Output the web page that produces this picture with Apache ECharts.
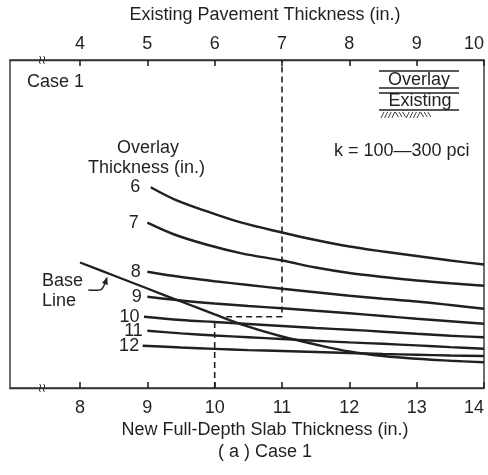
<!DOCTYPE html>
<html>
<head>
<meta charset="utf-8">
<script src="https://cdn.jsdelivr.net/npm/echarts@6/dist/echarts.min.js"></script>
<style>
html,body{margin:0;padding:0;background:#fff;}
#chart{width:488px;height:475px;}
</style>
</head>
<body>
<div id="chart"></div>
<script>
// ---- data (x = new full-depth slab thickness, in.; y = relative chart position) ----
const newSlabTicks = [8, 9, 10, 11, 12, 13, 14];
const existingTicks = [4, 5, 6, 7, 8, 9, 10];
const overlayLabels = ['6', '7', '8', '9', '10', '11', '12'];
const curve6  = [[9.05,200.7],[9.4,188.7],[9.9,176.3],[10.4,165.3],[11.0,155.5],[11.5,148],[12.0,141.5],[12.5,136.5],[13.0,132],[13.5,127.5],[14.0,123.5]];
const curve7  = [[9.0,165.3],[9.4,153.5],[9.9,143],[10.4,134.7],[11.0,127.5],[11.5,120.5],[12.0,115],[12.5,111],[13.0,107.5],[13.5,104.7],[14.0,102.3]];
const curve8  = [[9.0,116.3],[9.5,111],[10.0,106.8],[10.5,103],[11.0,99.3],[11.5,95.8],[12.0,92.3],[12.5,89.2],[13.0,86.5],[13.5,83],[14.0,79.3]];
const curve9  = [[9.0,91.3],[9.5,87.5],[10.0,84.5],[10.5,82],[11.0,79.8],[11.5,77.2],[12.0,74.7],[12.5,72],[13.0,69.3],[13.5,66.8],[14.0,64.3]];
const curve10 = [[8.95,71.3],[9.5,68],[10.0,66],[10.5,64],[11.0,62],[11.5,60],[12.0,58.3],[12.5,56.3],[13.0,54.2],[13.5,52.3],[14.0,50.7]];
const curve11 = [[9.0,57.3],[9.5,54.6],[10.0,52.5],[10.5,50.7],[11.0,49],[11.5,47.2],[12.0,45.6],[12.5,44.2],[13.0,42.6],[13.5,40.9],[14.0,39.3]];
const curve12 = [[8.93,42.3],[9.5,40.5],[10.0,39.1],[10.5,37.9],[11.0,37],[11.5,36],[12.0,35],[12.5,34],[13.0,33.2],[13.5,32.5],[14.0,32]];
const baseLine = [[8.0,125.5],[8.5,112.5],[9.0,99.5],[9.5,86.5],[10.0,73.6],[10.5,61.3],[11.0,51.5],[11.5,43.5],[12.0,36.5],[12.5,32],[13.0,29.2],[13.5,27.3],[14.0,25.7]];
const guideLow  = [[10,0],[10,66.3]];
const guideHigh = [[10.17,71.3],[11,71.3],[11,328]];
const baseArrow = [[8.123,98],[8.397,109.7]];
const xMin = 6.96, xMax = 14, yMin = 0, yMax = 328, existingOffset = 4, breakAt = 7.436;

const INK = '#231f20';
const FRAME = '#333333';
const FONT = 'Liberation Sans, Arial, Helvetica, sans-serif';
const curves = [curve6, curve7, curve8, curve9, curve10, curve11, curve12];
const labelGap = [10, 8, 6, 5, 4, 4, 3];

const chart = echarts.init(document.getElementById('chart'), null, {renderer: 'canvas'});

const series = curves.map((c, i) => ({
  type: 'line', name: overlayLabels[i], xAxisIndex: 0, yAxisIndex: 0,
  smooth: 0.35, symbol: 'circle', symbolSize: 1, showSymbol: true, showAllSymbol: true,
  itemStyle: {color: 'rgba(0,0,0,0)', borderWidth: 0},
  lineStyle: {color: INK, width: 2.4},
  label: {show: false},
  data: c.map((p, j) => j === 0 ? {value: p,
    label: {show: true, position: 'left', distance: labelGap[i], formatter: overlayLabels[i],
            color: INK, fontSize: 18, fontFamily: FONT}} : p),
  silent: true
}));
series.push({type: 'line', name: 'Base Line', smooth: 0.35, symbol: 'none',
  lineStyle: {color: INK, width: 2.4}, data: baseLine, silent: true});
series.push({type: 'line', name: 'guideLow', symbol: 'none',
  lineStyle: {color: INK, width: 1.6, type: [6, 4]}, data: guideLow, silent: true});
series.push({type: 'line', name: 'guideHigh', symbol: 'none',
  lineStyle: {color: INK, width: 1.6, type: [6, 4]}, data: guideHigh, silent: true});

const option = {
  animation: false,
  grid: {left: 10, right: 4, top: 60, bottom: 87, show: true, borderColor: FRAME, borderWidth: 1.4},
  xAxis: [
    {type: 'value', position: 'bottom', min: xMin, max: xMax,
     axisTick: {show: true, inside: true, length: 6, customValues: newSlabTicks, lineStyle: {color: '#222', width: 1.6}},
     axisLabel: {show: true, customValues: newSlabTicks, margin: 11, color: INK, fontSize: 18, fontFamily: FONT, alignMaxLabel: 'right'},
     axisLine: {lineStyle: {color: FRAME, width: 1.4}},
     splitLine: {show: false}},
    {type: 'value', position: 'top', min: xMin - existingOffset, max: xMax - existingOffset,
     axisTick: {show: true, inside: true, length: 6, customValues: existingTicks, lineStyle: {color: '#222', width: 1.6}},
     axisLabel: {show: true, customValues: existingTicks, margin: 7, color: INK, fontSize: 18, fontFamily: FONT, alignMaxLabel: 'right'},
     axisLine: {lineStyle: {color: FRAME, width: 1.4}},
     splitLine: {show: false}}
  ],
  yAxis: {type: 'value', min: yMin, max: yMax, show: false},
  series: series
};
chart.setOption(option);

// annotations
const txt = (text, x, y, align) => ({type: 'text', x: x, y: y, silent: true,
  style: {text: text, fill: INK, font: '18px ' + FONT, align: align || 'center', verticalAlign: 'middle'}});
const seg = (x1, y1, x2, y2, w, c) => ({type: 'line', silent: true, shape: {x1, y1, x2, y2}, style: {stroke: c || INK, lineWidth: w || 1.4}});

const g = [];
g.push(txt('Existing Pavement Thickness (in.)', 265, 15));
g.push(txt('New Full-Depth Slab Thickness (in.)', 265, 430));
g.push(txt('( a ) Case 1', 265, 452));
g.push(txt('Case 1', 27, 82, 'left'));
g.push(txt('Overlay', 148, 148));
g.push(txt('Thickness (in.)', 88, 168, 'left'));
g.push(txt('Base', 42, 281, 'left'));
g.push(txt('Line', 42, 301, 'left'));
g.push(txt('k = 100\u2014300 pci', 334, 151, 'left'));
// overlay / existing schematic
g.push(seg(379, 71, 459, 71));
g.push(txt('Overlay', 419, 80));
g.push(seg(379, 88, 459, 88));
g.push(seg(379, 93, 459, 93));
g.push(txt('Existing', 420, 101));
g.push(seg(379, 110, 459, 110));
const hatch = '////\\\\\\////\\\\\\';
for (let i = 0; i < hatch.length; i++) {
  const x = 381 + i * 3.6;
  if (hatch[i] === '/') g.push(seg(x, 118, x + 3, 112, 0.9));
  else g.push(seg(x, 112, x + 3, 117, 0.9));
}
// curved arrow pointing at the base line
const a0 = chart.convertToPixel({gridIndex: 0}, baseArrow[0]);
const a1 = chart.convertToPixel({gridIndex: 0}, baseArrow[1]);
const cp = [a1[0] - 4, a0[1] + 1];
g.push({type: 'bezierCurve', silent: true,
  shape: {x1: a0[0], y1: a0[1], cpx1: cp[0], cpy1: cp[1], cpx2: cp[0], cpy2: cp[1], x2: a1[0], y2: a1[1]},
  style: {stroke: INK, lineWidth: 1.4, fill: 'none'}});
const dx = a1[0] - cp[0], dy = a1[1] - cp[1], L = Math.hypot(dx, dy) || 1;
const ux = dx / L, uy = dy / L;
g.push({type: 'polygon', silent: true,
  shape: {points: [[a1[0] + ux * 1.5, a1[1] + uy * 1.5],
                   [a1[0] - ux * 6 - uy * 3, a1[1] - uy * 6 + ux * 3],
                   [a1[0] - ux * 6 + uy * 3, a1[1] - uy * 6 - ux * 3]]},
  style: {fill: INK}});
// axis break symbols
const yTop = chart.convertToPixel({yAxisIndex: 0}, yMax);
const yBot = chart.convertToPixel({yAxisIndex: 0}, yMin);
const bx = chart.convertToPixel({xAxisIndex: 0}, breakAt);
[yTop, yBot].forEach(yy => {
  [-2, 2].forEach(ddx => {
    g.push({type: 'bezierCurve', silent: true,
      shape: {x1: bx + ddx - 0.5, y1: yy - 4, x2: bx + ddx + 0.5, y2: yy + 4,
              cpx1: bx + ddx + 2.5, cpy1: yy - 1.5, cpx2: bx + ddx - 2.5, cpy2: yy + 1.5},
      style: {stroke: INK, lineWidth: 1, fill: 'none'}});
  });
});
chart.setOption({graphic: g});
</script>
</body>
</html>
